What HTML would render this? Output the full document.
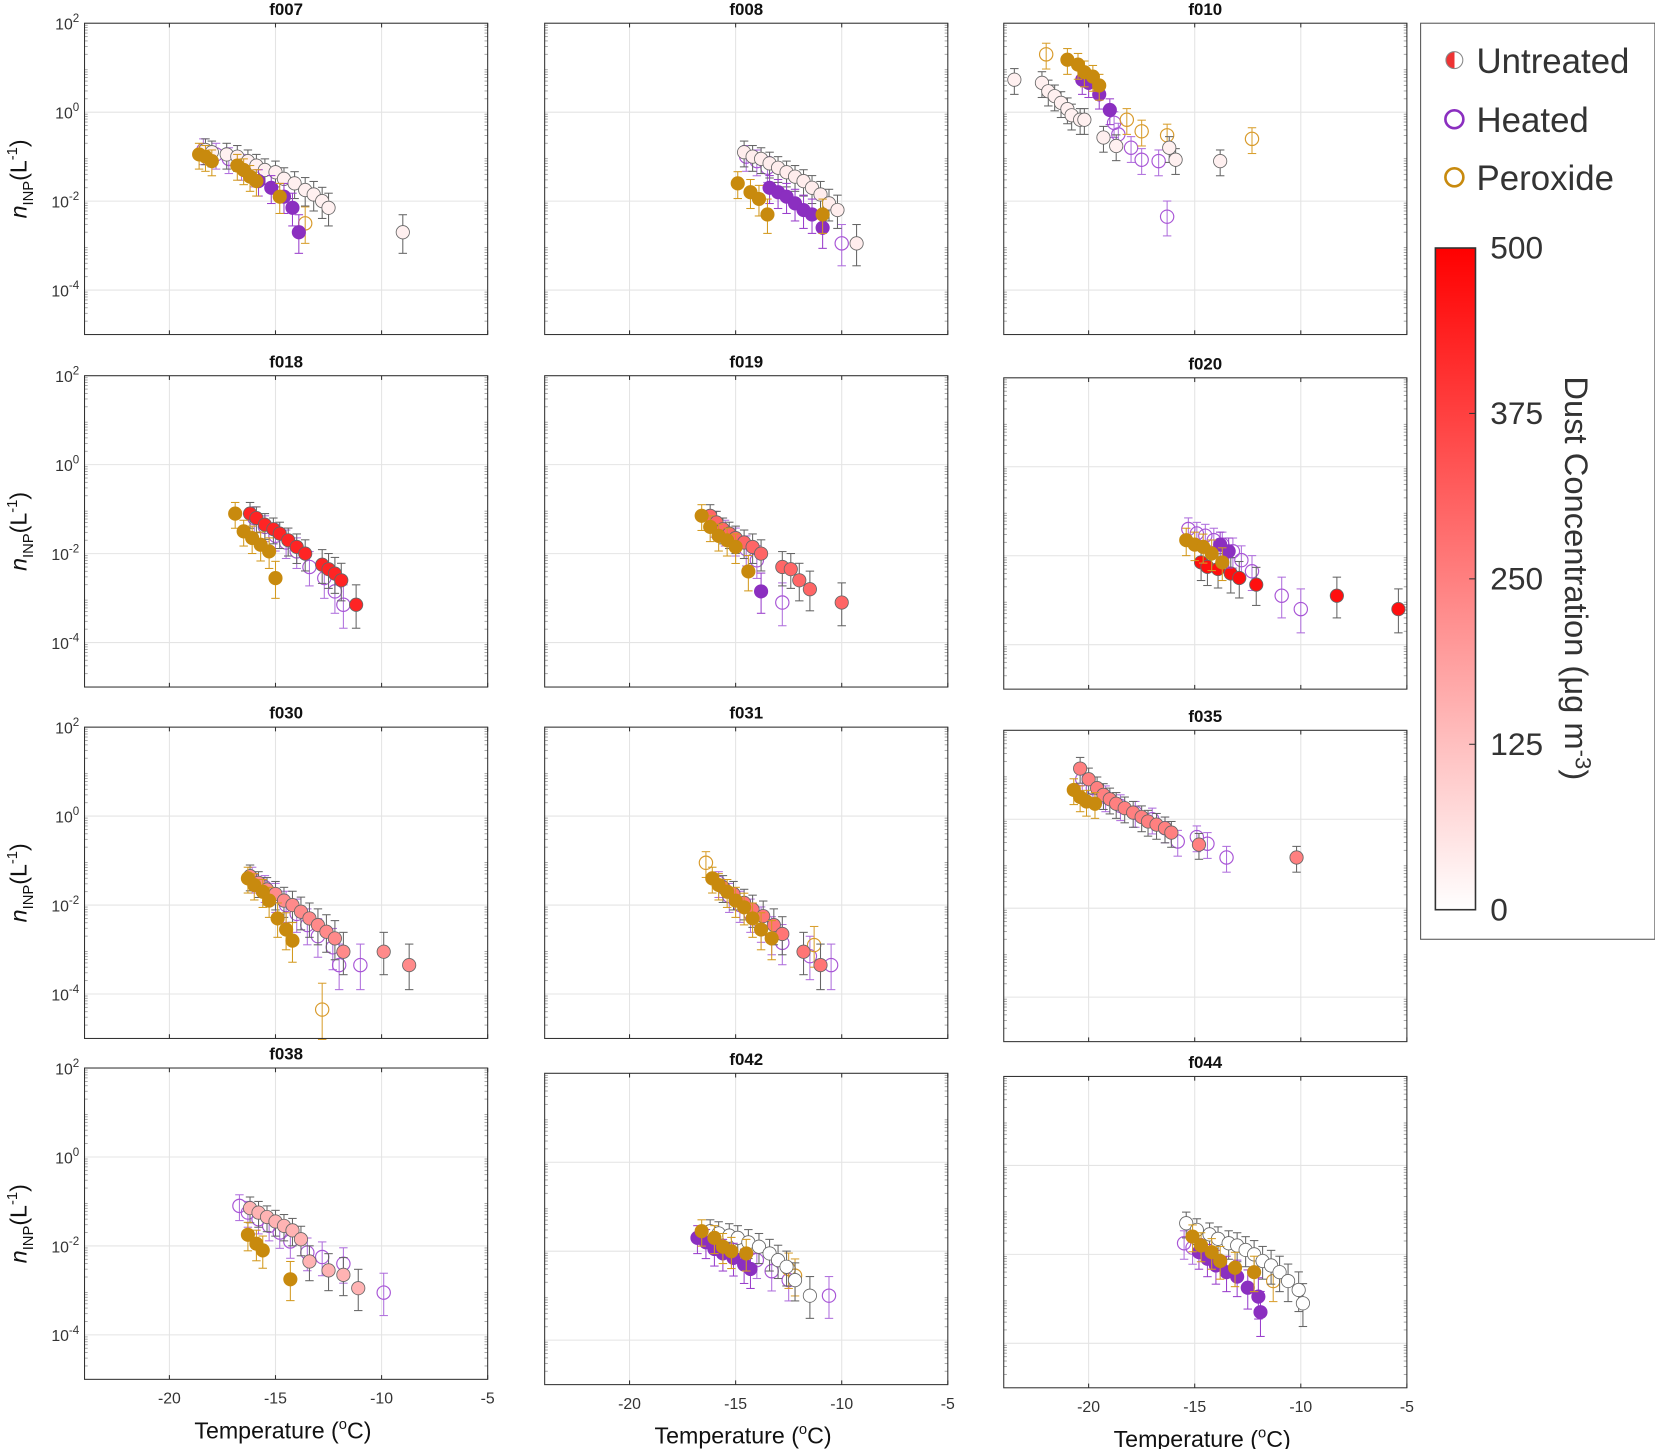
<!DOCTYPE html>
<html><head><meta charset="utf-8"><style>
html,body{margin:0;padding:0;background:#fff;}
svg{display:block;font-family:"Liberation Sans",Arial,sans-serif;}
</style></head><body>
<svg id="chart" width="1655" height="1449" viewBox="0 0 1568 1373" xmlns="http://www.w3.org/2000/svg">
<defs>
<linearGradient id="cbgrad" x1="0" y1="1" x2="0" y2="0"><stop offset="0" stop-color="#ffffff"/><stop offset="1" stop-color="#ff0000"/></linearGradient>
<linearGradient id="legGrad" x1="0" y1="0" x2="1" y2="0"><stop offset="0.5" stop-color="#e33"/><stop offset="0.5" stop-color="#fff"/></linearGradient>
</defs>
<g id="panels"></g>
<g>
<rect x="1346" y="22" width="222" height="868" fill="#fff" stroke="#555" stroke-width="1"/>
<circle cx="1378" cy="57" r="8" fill="url(#legGrad)" stroke="#888" stroke-width="1"/>
<text x="1399" y="69" font-size="33" fill="#333">Untreated</text>
<circle cx="1378" cy="113" r="8.5" fill="none" stroke="#8b2fc0" stroke-width="2.5"/>
<text x="1399" y="125" font-size="33" fill="#333">Heated</text>
<circle cx="1378" cy="168" r="8.5" fill="none" stroke="#c88a0e" stroke-width="2.5"/>
<text x="1399" y="180" font-size="33" fill="#333">Peroxide</text>
<rect x="1360" y="235" width="38" height="627" fill="url(#cbgrad)" stroke="#333" stroke-width="1.5"/>
<g id="cbticks" font-size="30" fill="#333"></g>
<text transform="translate(1483,548) rotate(90)" text-anchor="middle" font-size="31" fill="#333">Dust Concentration (μg m<tspan dy="-10" font-size="21">-3</tspan><tspan dy="10">)</tspan></text>
</g>
</svg>
<script>
// colorbar ticks
const cbTicks=[0,125,250,375,500];
// panel meta
const panelNames=["f007","f008","f010","f018","f019","f020","f030","f031","f035","f038","f042","f044"];
const panelConc=[30,35,30,430,300,470,230,270,250,150,0,0];
const panelX=[80,516,951,80,516,951,80,516,951,80,516,951];
const panelY=[22,22,22,356,356,358,689,689,692,1012,1017,1020];
// series data: [temperature, log10 nINP]
const untreatedT=[
[-18.3,-18,-17.3,-16.8,-16.3,-15.9,-15.5,-15.0,-14.6,-14.1,-13.6,-13.2,-12.8,-12.5,-9],
[-14.6,-14.2,-13.8,-13.4,-13,-12.6,-12.2,-11.8,-11.4,-11,-10.6,-10.2,-9.3],
[-23.5,-22.2,-21.9,-21.6,-21.3,-21,-20.8,-20.4,-20.2,-19.3,-18.7,-16.2,-15.9,-13.8],
[-16.2,-15.9,-15.5,-15.1,-14.8,-14.4,-14.0,-13.6,-12.8,-12.5,-12.2,-11.9,-11.2],
[-16.2,-15.9,-15.6,-15.3,-15,-14.6,-14.2,-13.8,-12.8,-12.4,-12,-11.5,-10],
[-14.7,-14.4,-13.9,-13.3,-12.9,-12.1,-8.3,-5.4],
[-16.2,-15.8,-15.4,-15.0,-14.6,-14.2,-13.8,-13.4,-13.0,-12.6,-12.2,-11.8,-9.9,-8.7],
[-15.6,-15.1,-14.6,-14.2,-13.7,-13.2,-12.8,-11.8,-11.0],
[-20.4,-20.0,-19.6,-19.3,-19.0,-18.7,-18.3,-17.9,-17.5,-17.2,-16.8,-16.4,-16.1,-14.8,-10.2],
[-16.2,-15.8,-15.4,-15.0,-14.6,-14.2,-13.8,-13.4,-12.5,-11.8,-11.1],
[-16.2,-15.8,-15.3,-14.9,-14.4,-13.9,-13.4,-13.0,-12.6,-12.2,-11.5],
[-15.4,-14.9,-14.3,-13.9,-13.4,-13.0,-12.6,-12.2,-11.8,-11.4,-11.0,-10.6,-10.1,-9.9]];
const untreatedN=[
[-0.85,-0.9,-0.95,-1.0,-1.1,-1.2,-1.3,-1.35,-1.5,-1.6,-1.75,-1.85,-2.0,-2.15,-2.7],
[-0.9,-1.0,-1.05,-1.15,-1.25,-1.35,-1.45,-1.55,-1.7,-1.85,-2.05,-2.2,-2.95],
[0.73,0.66,0.47,0.36,0.21,0.07,-0.07,-0.17,-0.17,-0.57,-0.76,-0.8,-1.07,-1.1],
[-1.1,-1.2,-1.35,-1.45,-1.55,-1.7,-1.85,-2.0,-2.25,-2.35,-2.45,-2.6,-3.15],
[-1.15,-1.3,-1.45,-1.55,-1.65,-1.75,-1.85,-2.0,-2.3,-2.35,-2.6,-2.8,-3.1],
[-2.15,-2.25,-2.3,-2.4,-2.5,-2.65,-2.9,-3.2],
[-1.35,-1.5,-1.65,-1.75,-1.9,-2.0,-2.15,-2.3,-2.45,-2.6,-2.75,-3.05,-3.05,-3.35],
[-1.6,-1.75,-1.95,-2.1,-2.25,-2.45,-2.65,-3.05,-3.35],
[1.14,0.9,0.7,0.55,0.45,0.35,0.25,0.15,0.05,-0.05,-0.12,-0.2,-0.3,-0.57,-0.86],
[-1.15,-1.25,-1.35,-1.45,-1.55,-1.65,-1.85,-2.35,-2.55,-2.65,-2.95],
[-1.55,-1.6,-1.65,-1.7,-1.8,-1.9,-2.05,-2.2,-2.35,-2.65,-3.0],
[-1.3,-1.45,-1.55,-1.65,-1.75,-1.8,-1.9,-2.0,-2.15,-2.25,-2.4,-2.6,-2.8,-3.1]];
const heatedOpenT=[
[-18.4,-17.8,-17.2,-16.6,-16.0],
[-14.5,-14.0,-13.5,-10.0],
[-18.8,-18.6,-18.0,-17.5,-16.7,-16.3],
[-16,-15.5,-15,-14.5,-14,-13.4,-12.7,-12.2,-11.8],
[-16,-15.5,-15,-14.5,-14,-12.8],
[-15.3,-14.9,-14.5,-14.1,-13.7,-13.2,-12.8,-12.3,-10.9,-10],
[-16.1,-15.5,-15,-14.5,-14,-13.5,-13,-12.3,-12,-11],
[-15.8,-15.3,-14.8,-14.3,-13.8,-13.3,-12.8,-11.5,-10.5],
[-20.3,-19.8,-19.2,-18.5,-17.8,-17.0,-16.4,-15.8,-14.9,-14.4,-13.5],
[-16.7,-16.3,-15.8,-15.3,-14.8,-14.3,-13.5,-12.8,-11.8,-9.9],
[-14.0,-13.3,-12.5,-10.6],
[-15.5,-15.1]];
const heatedOpenN=[
[-0.85,-0.95,-1.05,-1.2,-1.35],
[-1.0,-1.1,-1.25,-2.95],
[-0.24,-0.5,-0.8,-1.07,-1.1,-2.35],
[-1.2,-1.4,-1.6,-1.75,-1.95,-2.3,-2.55,-2.85,-3.15],
[-1.3,-1.5,-1.7,-1.9,-2.15,-3.1],
[-1.4,-1.5,-1.55,-1.65,-1.75,-1.9,-2.1,-2.35,-2.9,-3.2],
[-1.4,-1.6,-1.8,-2.0,-2.2,-2.45,-2.7,-2.95,-3.35,-3.35],
[-1.5,-1.8,-2.0,-2.2,-2.4,-2.65,-2.85,-3.15,-3.35],
[0.9,0.7,0.5,0.3,0.15,0.0,-0.2,-0.5,-0.4,-0.55,-0.86],
[-1.1,-1.25,-1.4,-1.55,-1.7,-1.9,-2.15,-2.25,-2.4,-3.05],
[-2.2,-2.45,-2.65,-3.0],
[-1.75,-1.85]];
const heatedFilledT=[
[-15.8,-15.2,-14.6,-14.2,-13.9],
[-13.4,-13.0,-12.6,-12.2,-11.8,-11.4,-10.9],
[-20.3,-20.0,-19.5,-19.0],
[],[-13.8],[-13.8,-13.4],[],[],[],[],
[-16.8,-16.4,-16.0,-15.6,-15.1,-14.6,-14.3],
[-14.8,-14.4,-14.0,-13.5,-13.0,-12.5,-12.0,-11.9]];
const heatedFilledN=[
[-1.55,-1.7,-1.9,-2.15,-2.7],
[-1.7,-1.8,-1.9,-2.05,-2.2,-2.3,-2.6],
[0.73,0.66,0.4,0.05],
[],[-2.85],[-1.75,-1.9],[],[],[],[],
[-1.7,-1.8,-1.95,-2.05,-2.15,-2.3,-2.4],
[-1.95,-2.1,-2.25,-2.4,-2.5,-2.75,-2.95,-3.3]];
const peroxFilledT=[
[-18.6,-18.3,-18.0,-16.8,-16.5,-16.2,-15.9,-14.8],
[-14.9,-14.3,-13.9,-13.5,-10.9],
[-21.0,-20.5,-20.2,-19.8,-19.5],
[-16.9,-16.5,-16.1,-15.7,-15.3,-15.0],
[-16.6,-16.2,-15.8,-15.4,-15,-14.4],
[-15.4,-15,-14.6,-14.2,-13.7],
[-16.3,-16,-15.6,-15.3,-14.9,-14.5,-14.2],
[-16.1,-15.8,-15.4,-15.0,-14.6,-14.2,-13.8,-13.3],
[-20.7,-20.4,-20.1,-19.7],
[-16.3,-15.9,-15.6,-14.3],
[-16.6,-16.0,-15.6,-15.2,-14.5],
[-15.1,-14.7,-14.2,-13.8,-13.1,-12.2]];
const peroxFilledN=[
[-0.95,-1.0,-1.1,-1.2,-1.3,-1.45,-1.55,-1.9],
[-1.6,-1.8,-1.95,-2.3,-2.3],
[1.18,1.07,0.9,0.8,0.6],
[-1.1,-1.5,-1.65,-1.8,-1.95,-2.55],
[-1.15,-1.4,-1.6,-1.7,-1.85,-2.4],
[-1.65,-1.75,-1.8,-1.95,-2.15],
[-1.4,-1.55,-1.7,-1.9,-2.3,-2.55,-2.8],
[-1.4,-1.55,-1.7,-1.9,-2.05,-2.3,-2.55,-2.75],
[0.66,0.5,0.4,0.35],
[-1.75,-1.95,-2.1,-2.75],
[-1.55,-1.7,-1.9,-2.0,-2.05],
[-1.6,-1.8,-1.95,-2.15,-2.3,-2.4]];
const peroxOpenT=[[-13.6],[],[-22.0,-18.2,-17.5,-16.3,-12.3],[],[],[],[-12.8],[-16.4,-11.3],[],[],[-12.5,-12.2],[-11.3]];
const peroxOpenN=[[-2.5],[],[1.3,-0.17,-0.43,-0.52,-0.6],[],[],[],[-4.35],[-1.05,-2.9],[],[],[-2.4,-2.55],[-2.6]];
const xTicks=[-20,-15,-10,-5];
const yTicks=[2,0,-2,-4];

const NS="http://www.w3.org/2000/svg";
const W=382,H=295,XMIN=-24,XMAX=-5,YMIN=-5,YMAX=2;
const HEAT="#8b2fc0",PER="#c88a0e";
function mk(tag,attrs,parent){const e=document.createElementNS(NS,tag);for(const k in attrs)e.setAttribute(k,attrs[k]);if(parent)parent.appendChild(e);return e;}
function concColor(c){const f=c/500;const g=Math.round(255*(1-f));return `rgb(255,${g},${g})`;}
const root=document.getElementById('panels');

const cbg=document.getElementById('cbticks');
cbTicks.forEach(v=>{const y=862-v/500*627;
 const t=mk('text',{x:1412,y:y+10},cbg);t.textContent=v;
 
 
 mk('line',{x1:1392,x2:1398,y1:y,y2:y,stroke:'#333'},cbg);
});

panelNames.forEach((name,i)=>{
 const x0=panelX[i],y0=panelY[i];
 const sx=t=>x0+(t-XMIN)/(XMAX-XMIN)*W;
 const sy=v=>y0+(YMAX-v)/(YMAX-YMIN)*H;
 const g=mk('g',{},root);
 
 
 mk('rect',{x:x0,y:y0,width:W,height:H,fill:'#fff'},g);
 xTicks.slice(0,3).forEach(t=>mk('line',{x1:sx(t),x2:sx(t),y1:y0,y2:y0+H,stroke:'#e4e4e4','stroke-width':1},g));
 yTicks.forEach(v=>mk('line',{x1:x0,x2:x0+W,y1:sy(v),y2:sy(v),stroke:'#e4e4e4','stroke-width':1},g));
 for(let d=YMIN;d<YMAX;d++)for(let m=2;m<10;m++){const y=sy(d+Math.log10(m));
  mk('line',{x1:x0,x2:x0+3,y1:y,y2:y,stroke:'#999','stroke-width':0.8},g);
  mk('line',{x1:x0+W-3,x2:x0+W,y1:y,y2:y,stroke:'#999','stroke-width':0.8},g);}
 xTicks.forEach(t=>{mk('line',{x1:sx(t),x2:sx(t),y1:y0+H,y2:y0+H-4,stroke:'#333'},g);mk('line',{x1:sx(t),x2:sx(t),y1:y0,y2:y0+4,stroke:'#333'},g);});
 const title=mk('text',{x:x0+W/2,y:y0-8,'text-anchor':'middle','font-size':16,'font-weight':'bold',fill:'#111'},g);
 title.textContent=name;
 
 
 if(i%3===0){
  yTicks.forEach(v=>{const t=mk('text',{x:x0-5,y:sy(v)+6,'text-anchor':'end','font-size':15,fill:'#333'},g);
   t.innerHTML='10<tspan dy="-7" font-size="11">'+v+'</tspan>';
   
   });
  const yt=mk('text',{transform:`translate(${x0-55},${y0+H/2}) rotate(-90)`,'text-anchor':'middle','font-size':22,fill:'#111'},g);
  yt.innerHTML='<tspan font-style="italic">n</tspan><tspan dy="6" font-size="14">INP</tspan><tspan dy="-6">(L</tspan><tspan dy="-9" font-size="14">-1</tspan><tspan dy="9">)</tspan>';
  
  
 }
 if(i>=9){
  xTicks.forEach(t=>{const l=mk('text',{x:sx(t),y:y0+H+23,'text-anchor':'middle','font-size':15,fill:'#333'},g);l.textContent=t;
   
   });
  const xt=mk('text',{x:x0+W/2-3,y:y0+H+56,'text-anchor':'middle','font-size':22,fill:'#111'},g);
  xt.innerHTML='Temperature (<tspan dy="-9" font-size="14">o</tspan><tspan dy="9">C)</tspan>';
  
  
 }
 function series(T,N,stroke,fill,errCol,sname){
  const sg=mk('g',{},g);
  
  
  T.forEach((t,j)=>{const v=N[j];const e=0.25+Math.max(0,-v-1.5)*0.12;
   const x=sx(t);const yt=sy(v+e),yb=sy(v-e-0.08);
   mk('line',{x1:x,x2:x,y1:yt,y2:yb,stroke:errCol,'stroke-width':1},sg);
   mk('line',{x1:x-4,x2:x+4,y1:yt,y2:yt,stroke:errCol,'stroke-width':1},sg);
   mk('line',{x1:x-4,x2:x+4,y1:yb,y2:yb,stroke:errCol,'stroke-width':1},sg);
  });
  T.forEach((t,j)=>{const c=mk('circle',{cx:sx(t),cy:sy(N[j]),r:6.3,fill:fill,stroke:stroke,'stroke-width':fill==='none'?1.1:0.8},sg);
   
   });
 }
 series(heatedOpenT[i],heatedOpenN[i],'#a855d6','none','#b070dd','heated-open');
 series(peroxOpenT[i],peroxOpenN[i],'#d89a2a','none','#d9a030','peroxide-open');
 series(untreatedT[i],untreatedN[i],'#666',concColor(panelConc[i]),'#666','untreated');
 series(heatedFilledT[i],heatedFilledN[i],HEAT,HEAT,'#9a40cc','heated-filled');
 series(peroxFilledT[i],peroxFilledN[i],PER,PER,'#d39a20','peroxide-filled');
 mk('rect',{x:x0,y:y0,width:W,height:H,fill:'none',stroke:'#333','stroke-width':1},g);
});
</script>
</body></html>
